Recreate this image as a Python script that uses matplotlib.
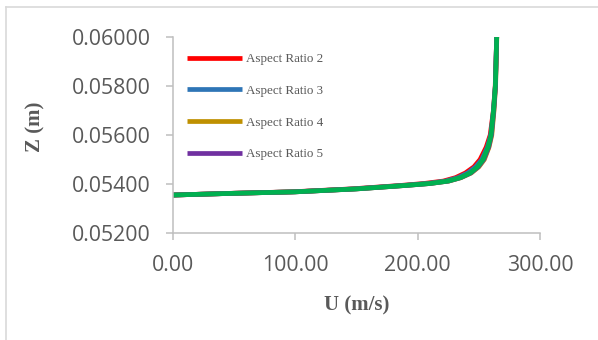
import matplotlib
matplotlib.use("Agg")
import matplotlib.pyplot as plt
from matplotlib.lines import Line2D

# ---- data ----
z_levels = [0.05355, 0.05362, 0.05368, 0.05380, 0.05394, 0.05402, 0.05412, 0.05426,
            0.05445, 0.05470, 0.05500, 0.05550, 0.05600, 0.05700, 0.05800, 0.06000]
u_ar2 = [0, 48, 97, 146, 186, 205, 221, 231, 239, 246, 251, 256, 259.3, 261.9, 263.4, 264.6]
u_ar3 = [0, 49, 99, 148, 188, 208, 223, 233, 241, 247.5, 252.5, 257, 259.8, 262, 263.5, 264.6]
u_ar4 = [0, 50, 100, 150, 190, 210, 225.5, 235.5, 243.8, 250, 254.5, 258.3, 260.6, 262.4, 263.7, 264.7]
u_ar5 = [0, 50, 100, 150, 190, 210, 225.2, 235.2, 243.4, 249.5, 254, 258, 260.3, 262.2, 263.6, 264.6]
u_ar6 = [0, 50, 100, 150, 190, 210, 225, 235, 243, 249, 253.5, 257.5, 260, 262, 263.5, 264.6]

series_labels = ["Aspect Ratio 2", "Aspect Ratio 3", "Aspect Ratio 4", "Aspect Ratio 5", None]
series_u = [u_ar2, u_ar3, u_ar4, u_ar5, u_ar6]
series_colors = ["#FF0000", "#2E75B6", "#BF9000", "#7030A0", "#00B050"]

x_ticks = [0, 100, 200, 300]
y_ticks = [0.052, 0.054, 0.056, 0.058, 0.060]

# ---- figure ----
fig = plt.figure(figsize=(5.98, 3.40), dpi=100)
ax = fig.add_axes([173/598, 1-233/340, 367/598, 196/340])

handles = []
for u, lab, col in zip(series_u, series_labels, series_colors):
    ln, = ax.plot(u, z_levels, color=col, lw=3.4, solid_joinstyle="round",
                  solid_capstyle="butt")
    if lab is not None:
        ln.set_label(lab)
        handles.append(ln)

ax.set_xlim(0, 300)
ax.set_ylim(0.052, 0.060)
ax.set_xticks(x_ticks)
ax.set_yticks(y_ticks)
ax.set_xticklabels([f"{v:.2f}" for v in x_ticks])
ax.set_yticklabels([f"{v:.5f}" for v in y_ticks])

grey = "#595959"
spine_col = "#BFBFBF"
for s in ["top", "right"]:
    ax.spines[s].set_visible(False)
for s in ["left", "bottom"]:
    ax.spines[s].set_color(spine_col)
    ax.spines[s].set_linewidth(1.1)
ax.tick_params(axis="both", direction="out", length=5, width=1.1, color=spine_col,
               labelcolor=grey, labelsize=15.3, pad=11)
for t in ax.get_xticklabels() + ax.get_yticklabels():
    t.set_fontfamily("Open Sans")

ax.set_xlabel("U (m/s)", fontfamily="Liberation Serif", fontweight="bold",
              fontsize=15, color=grey, va="center")
ax.xaxis.set_label_coords(0.5, -0.372)
ax.set_ylabel("Z (m)", fontfamily="Liberation Serif", fontweight="bold",
              fontsize=15, color=grey, va="center")
ax.yaxis.set_label_coords(-0.376, 0.541)

leg = ax.legend(handles=handles, loc="upper left", bbox_to_anchor=(14/367, 1-16/196),
                frameon=False, borderpad=0, borderaxespad=0, handlelength=4.2,
                handletextpad=0.35, labelspacing=1.5,
                prop={"family": "Liberation Serif", "size": 9.4})
for t in leg.get_texts():
    t.set_color(grey)

# outer frame (top and left edges)
fig.add_artist(Line2D([6/598, 6/598], [0, 1-7/340], transform=fig.transFigure,
                      color="#D9D9D9", lw=1.2))
fig.add_artist(Line2D([6/598, 1], [1-7/340, 1-7/340], transform=fig.transFigure,
                      color="#D9D9D9", lw=1.2))

fig.savefig("out.png", dpi=100)
